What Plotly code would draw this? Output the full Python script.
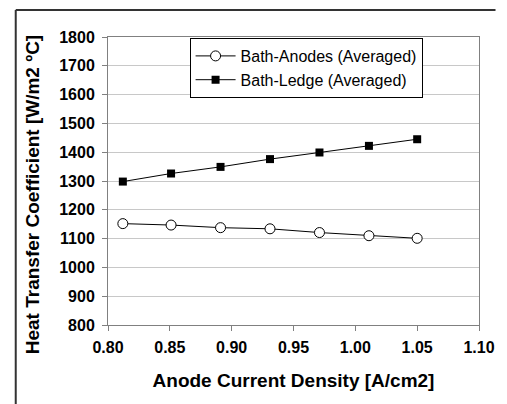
import plotly.graph_objects as go

x_vals = [0.812, 0.851, 0.891, 0.931, 0.971, 1.011, 1.050]
anodes = [1152, 1147, 1138, 1134, 1121, 1110, 1101]
ledge = [1298, 1326, 1349, 1376, 1399, 1422, 1445]
names = ["Bath-Anodes (Averaged)", "Bath-Ledge (Averaged)"]
x_title = "Anode Current Density [A/cm2]"
y_title = "Heat Transfer Coefficient [W/m2 \u00baC]"

W, H = 507, 404
L, R, T, B = 108, 17, 37, 79
pw, ph = W - L - R, H - T - B

fig = go.Figure()
fig.add_trace(go.Scatter(
    x=x_vals, y=anodes, name=names[0], mode="lines+markers",
    line=dict(color="black", width=1),
    marker=dict(symbol="circle", size=10, color="white", line=dict(color="black", width=1)),
))
fig.add_trace(go.Scatter(
    x=x_vals, y=ledge, name=names[1], mode="lines+markers",
    line=dict(color="black", width=1),
    marker=dict(symbol="square", size=8, color="black", line=dict(color="black", width=0)),
))

def px_x(p):
    return (p - L) / pw

def px_y(p):
    return 1 - (p - T) / ph

fx, fy = px_x(13), px_y(10)
fig.add_shape(type="line", xref="paper", yref="paper", x0=fx, x1=fx, y0=px_y(404), y1=fy,
              line=dict(color="#333333", width=2))
fig.add_shape(type="line", xref="paper", yref="paper", x0=fx, x1=px_x(507), y0=fy, y1=fy,
              line=dict(color="#333333", width=2))

font_b = "Liberation Sans, Arial, sans-serif"
fig.add_annotation(
    text=y_title, xref="paper", yref="paper", x=px_x(30), y=px_y(195),
    xanchor="center", yanchor="middle", textangle=-90, showarrow=False,
    font=dict(family=font_b, size=19, color="black", weight="bold"),
)

fig.update_layout(
    width=W, height=H,
    margin=dict(l=L, r=R, t=T, b=B, pad=0),
    paper_bgcolor="white", plot_bgcolor="white",
    font=dict(family=font_b, color="black"),
    showlegend=True,
    legend=dict(
        x=px_x(192), y=px_y(38), xanchor="left", yanchor="top",
        bgcolor="white", bordercolor="black", borderwidth=1,
        font=dict(family=font_b, size=16, color="black"),
        tracegroupgap=0, itemwidth=40,
    ),
    xaxis=dict(
        range=[0.8, 1.1], dtick=0.05, tick0=0.8, tickformat=".2f",
        showgrid=False, zeroline=False,
        showline=True, linecolor="#808080", linewidth=1, mirror=True,
        ticks="outside", ticklen=5, tickcolor="#808080", ticklabelstandoff=3,
        tickfont=dict(family=font_b, size=16, color="black", weight="bold"),
        title=dict(text=x_title, standoff=18,
                   font=dict(family=font_b, size=19, color="black", weight="bold")),
    ),
    yaxis=dict(
        range=[800, 1800], dtick=100, tick0=800,
        showgrid=True, gridcolor="#c8c8c8", gridwidth=1, zeroline=False,
        showline=True, linecolor="#808080", linewidth=1, mirror=True,
        ticks="outside", ticklen=5, tickcolor="#808080", ticklabelstandoff=4,
        tickfont=dict(family=font_b, size=16, color="black", weight="bold"),
    ),
)

fig.write_html("out.html", config={"displayModeBar": False},
               post_script="document.body.style.margin='0';")
